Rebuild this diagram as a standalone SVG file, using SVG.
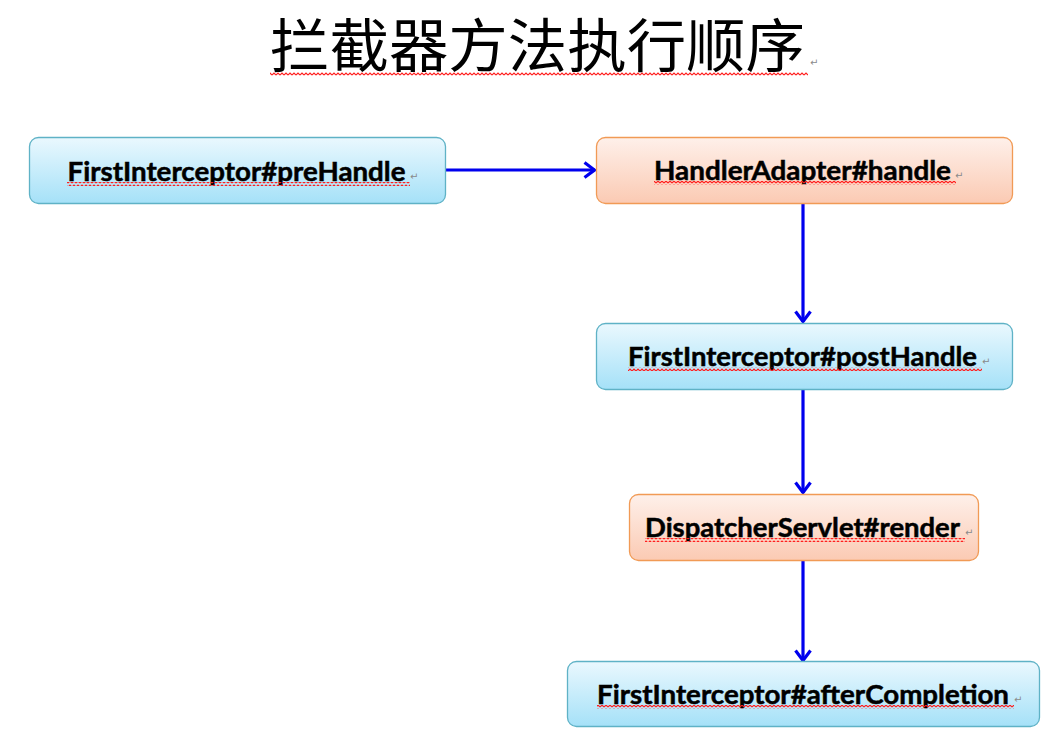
<svg xmlns="http://www.w3.org/2000/svg" width="1046" height="731" viewBox="0 0 1046 731">
<defs>
<linearGradient id="gBlue" x1="0" y1="0" x2="0" y2="1">
<stop offset="0" stop-color="#eaf8fe"/>
<stop offset="1" stop-color="#a5e1f8"/>
</linearGradient>
<linearGradient id="gOrange" x1="0" y1="0" x2="0" y2="1">
<stop offset="0" stop-color="#fef0ea"/>
<stop offset="1" stop-color="#fbcab3"/>
</linearGradient>
<pattern id="squig" width="4" height="4" patternUnits="userSpaceOnUse">
<path d="M0 3 L2 1 L4 3" fill="none" stroke="#ff1a1a" stroke-width="1.1"/>
</pattern>
<marker id="arr" viewBox="0 0 13 18" refX="12" refY="9" markerWidth="13" markerHeight="18" markerUnits="userSpaceOnUse" orient="auto">
<path d="M1.5 1.5 L11.5 9 L1.5 16.5" fill="none" stroke="#0000ee" stroke-width="3.2"/>
</marker>
<style>
.blue{fill:url(#gBlue);stroke:#5fb2c6;stroke-width:1.3}
.orange{fill:url(#gOrange);stroke:#f19a55;stroke-width:1.3}
.lbl{font-family:Lato,"Open Sans","Liberation Sans",sans-serif;font-weight:bold;font-size:27px;fill:#000;stroke:#000;stroke-width:0.5}
.pm{font-family:"DejaVu Sans",sans-serif;font-size:10px;fill:#8a8a8a}
.conn{stroke:#0000ee;stroke-width:3.2;fill:none}
</style>
</defs>
<rect width="1046" height="731" fill="#ffffff"/>
<g id="title">
<text x="270" y="67" font-family="'Noto Sans CJK SC',sans-serif" font-size="58" fill="#000" textLength="535" lengthAdjust="spacingAndGlyphs">拦截器方法执行顺序</text>
<rect x="270" y="72" width="538" height="4" fill="url(#squig)"/>
<text class="pm" x="810" y="66">↵</text>
</g>
<g id="connectors">
<line class="conn" x1="446" y1="170" x2="595" y2="170" marker-end="url(#arr)"/>
<line class="conn" x1="803" y1="204" x2="803" y2="322" marker-end="url(#arr)"/>
<line class="conn" x1="803" y1="390" x2="803" y2="493" marker-end="url(#arr)"/>
<line class="conn" x1="803" y1="561" x2="803" y2="661" marker-end="url(#arr)"/>
</g>
<g id="preHandle">
<rect class="blue" x="29.5" y="137.5" width="416" height="66" rx="9"/>
<text class="lbl" x="67.5" y="181" textLength="338" lengthAdjust="spacingAndGlyphs">FirstInterceptor#preHandle</text>
<rect x="67" y="182" width="343" height="4" fill="url(#squig)"/>
<text class="pm" x="410" y="180">↵</text>
</g>
<g id="handle">
<rect class="orange" x="596.5" y="137.5" width="416" height="66" rx="9"/>
<text class="lbl" x="654" y="180" textLength="297" lengthAdjust="spacingAndGlyphs">HandlerAdapter#handle</text>
<rect x="654" y="181" width="302" height="4" fill="url(#squig)"/>
<text class="pm" x="955" y="179">↵</text>
</g>
<g id="postHandle">
<rect class="blue" x="596.5" y="323.5" width="416" height="66" rx="9"/>
<text class="lbl" x="628" y="366" textLength="349" lengthAdjust="spacingAndGlyphs">FirstInterceptor#postHandle</text>
<rect x="628" y="367" width="354" height="4" fill="url(#squig)"/>
<text class="pm" x="982" y="365">↵</text>
</g>
<g id="render">
<rect class="orange" x="629.5" y="494.5" width="349" height="66" rx="9"/>
<text class="lbl" x="645" y="537" textLength="315" lengthAdjust="spacingAndGlyphs">DispatcherServlet#render</text>
<rect x="645" y="538" width="320" height="4" fill="url(#squig)"/>
<text class="pm" x="965" y="536">↵</text>
</g>
<g id="afterCompletion">
<rect class="blue" x="567.5" y="661.5" width="472" height="65" rx="9"/>
<text class="lbl" x="597" y="704" textLength="412" lengthAdjust="spacingAndGlyphs">FirstInterceptor#afterCompletion</text>
<rect x="597" y="705" width="417" height="4" fill="url(#squig)"/>
<text class="pm" x="1014" y="703">↵</text>
</g>
</svg>
